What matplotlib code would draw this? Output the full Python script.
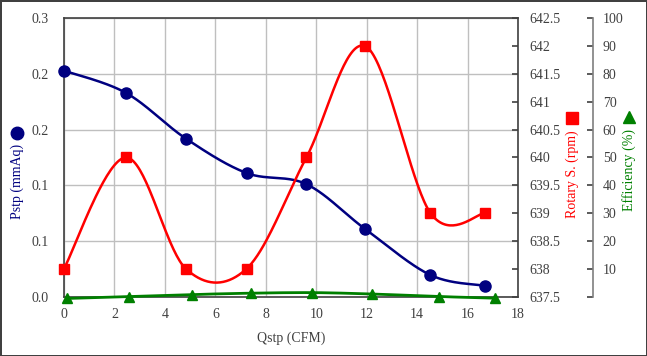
import numpy as np
import matplotlib
matplotlib.use("Agg")
import matplotlib.pyplot as plt
from matplotlib.lines import Line2D

# données
q_pstp = [0.0, 2.46, 4.83, 7.24, 9.61, 11.95, 14.53, 16.7]
pstp = [0.203, 0.183, 0.142, 0.111, 0.101, 0.0605, 0.0193, 0.0097]
rotary = [638, 640, 638, 638, 640, 642, 639, 639]
q_eff = [0.13, 2.59, 5.06, 7.42, 9.85, 12.21, 14.86, 17.07]
efficiency = [-0.7, 0.0, 0.7, 1.2, 1.4, 0.9, 0.0, -0.6]

pstp_ticks = [0.0, 0.05, 0.10, 0.15, 0.20, 0.25]
pstp_labels = ["0.0", "0.1", "0.1", "0.2", "0.2", "0.3"]
rot_ticks = [637.5, 638, 638.5, 639, 639.5, 640, 640.5, 641, 641.5, 642, 642.5]
eff_ticks = [0, 10, 20, 30, 40, 50, 60, 70, 80, 90, 100]
x_ticks = [0, 2, 4, 6, 8, 10, 12, 14, 16, 18]

plt.rcParams["font.family"] = ["Liberation Serif", "DejaVu Sans"]
plt.rcParams["font.size"] = 10

BLEU = "#000080"
ROUGE = "#FF0000"
VERT = "#008000"
GRIS = "#404040"
TEXTE = "#404040"


def lisser(xs, ys, n=40):
    # courbe lissée façon Excel (Bézier de type Catmull-Rom)
    p = np.column_stack([xs, ys]).astype(float)
    p = np.vstack([p[0], p, p[-1]])
    t = np.linspace(0, 1, n)[:, None]
    morceaux = []
    for i in range(1, len(p) - 2):
        p0, p1, p2, p3 = p[i - 1], p[i], p[i + 1], p[i + 2]
        c1 = p1 + (p2 - p0) / 6
        c2 = p2 - (p3 - p1) / 6
        b = ((1 - t) ** 3) * p1 + 3 * ((1 - t) ** 2) * t * c1 + 3 * (1 - t) * t ** 2 * c2 + t ** 3 * p2
        morceaux.append(b)
    c = np.vstack(morceaux)
    return c[:, 0], c[:, 1]


fig = plt.figure(figsize=(6.47, 3.56), dpi=100)
fig.patch.set_edgecolor(GRIS)
fig.patch.set_linewidth(2)
ax = fig.add_axes([0.0989, 0.1671, 0.7017, 0.7812])

ax.set_xlim(0, 18)
ax.set_ylim(0, 0.25)
ax.set_xticks(x_ticks)
ax.set_yticks(pstp_ticks)
ax.set_yticklabels(pstp_labels)
ax.grid(True, color="#BFBFBF", linewidth=1)
ax.set_axisbelow(True)
ax.tick_params(axis="both", length=0, colors=GRIS, labelcolor=TEXTE)
ax.tick_params(axis="y", pad=11)
ax.tick_params(axis="x", pad=8)
for s in ax.spines.values():
    s.set_color(GRIS)
    s.set_linewidth(1.2)
ax.set_xlabel("Qstp (CFM)", color=TEXTE, labelpad=8)

ax2 = ax.twinx()
ax2.set_ylim(637.5, 642.5)
ax2.set_yticks(rot_ticks)
ax2.set_yticklabels(["%g" % v for v in rot_ticks])
ax2.tick_params(axis="y", direction="in", length=4, width=1.2, colors=GRIS, labelcolor=TEXTE, pad=8)
for s in ax2.spines.values():
    s.set_visible(False)

ax3 = ax.twinx()
ax3.set_ylim(0, 100)
ax3.set_yticks(eff_ticks)
ax3.set_yticklabels([""] + [str(v) for v in eff_ticks[1:]])
ax3.spines["right"].set_position(("outward", 54))
for k in ["left", "top", "bottom"]:
    ax3.spines[k].set_visible(False)
ax3.spines["right"].set_color("#7F7F7F")
ax3.spines["right"].set_linewidth(1.2)
ax3.tick_params(axis="y", direction="in", length=4, width=1.2, colors=GRIS, labelcolor=TEXTE, pad=7)

# séries
xs, ys = lisser(q_eff, efficiency)
ax3.plot(xs, ys, color=VERT, linewidth=2, clip_on=False)
ax3.plot(q_eff, efficiency, "^", color=VERT, markersize=7, clip_on=False)

xs, ys = lisser(q_pstp, rotary)
ax2.plot(xs, ys, color=ROUGE, linewidth=1.8, clip_on=False)
ax2.plot(q_pstp, rotary, "s", color=ROUGE, markersize=7.5, clip_on=False)

xs, ys = lisser(q_pstp, pstp)
ax.plot(xs, ys, color=BLEU, linewidth=1.8, clip_on=False, zorder=5)
ax.plot(q_pstp, pstp, "o", color=BLEU, markersize=8, clip_on=False, zorder=6)

# titres des axes verticaux avec leur symbole
H = 356.0
W = 647.0
fig.text(17 / W, 1 - 181 / H, "Pstp (mmAq)", rotation=90, color=BLEU, ha="center", va="center")
fig.add_artist(Line2D([17 / W], [1 - 133 / H], marker="o", color=BLEU, markersize=9, transform=fig.transFigure))
fig.text(572 / W, 1 - 174 / H, "Rotary S. (rpm)", rotation=90, color=ROUGE, ha="center", va="center")
fig.add_artist(Line2D([572 / W], [1 - 118 / H], marker="s", color=ROUGE, markersize=8.5, transform=fig.transFigure))
fig.text(629 / W, 1 - 170 / H, "Efficiency (%)", rotation=90, color=VERT, ha="center", va="center")
fig.add_artist(Line2D([629 / W], [1 - 117 / H], marker="^", color=VERT, markersize=8.5, transform=fig.transFigure))

fig.savefig("out.png", dpi=100)
